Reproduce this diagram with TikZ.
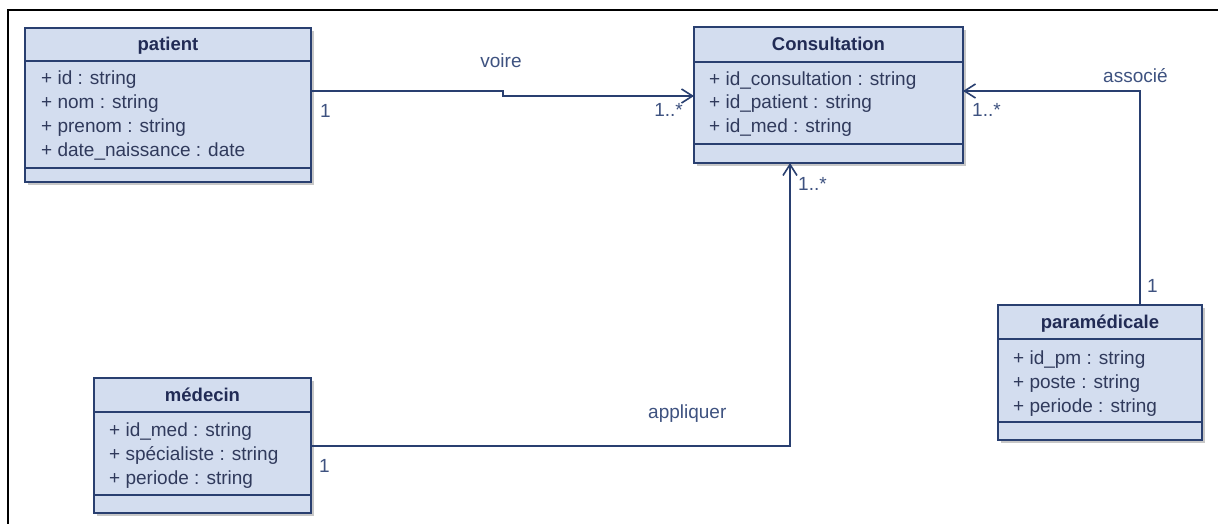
\documentclass[tikz,border=0pt]{standalone}
\usepackage{fontspec}
\setmainfont{Liberation Sans}
\usetikzlibrary{arrows.meta,shadows}

\definecolor{umlfill}{RGB}{211,221,239}
\definecolor{umlborder}{RGB}{41,63,112}
\definecolor{umltitle}{RGB}{33,43,85}
\definecolor{umlattr}{RGB}{48,58,92}
\definecolor{umllabel}{RGB}{62,82,128}

\tikzset{
  classbox/.style={draw=umlborder, fill=umlfill, line width=2pt, anchor=north west,
    inner sep=0pt, outer sep=0pt,
    drop shadow={shadow xshift=3pt, shadow yshift=-3pt, fill=black, opacity=0.22}},
  sepline/.style={draw=umlborder, line width=2pt},
  classtitle/.style={anchor=base, inner sep=0pt, text=umltitle,
    font=\fontsize{18.5}{22}\selectfont\bfseries},
  attr/.style={anchor=base west, inner sep=0pt, text=umlattr,
    font=\fontsize{19}{22}\selectfont},
  rolelabel/.style={anchor=base west, inner sep=0pt, text=umllabel,
    font=\fontsize{19}{22}\selectfont},
  assoc/.style={draw=umlborder, line width=2pt,
    -{Straight Barb[length=11pt,width=14pt,line width=1.6pt]}},
}

\begin{document}
\begin{tikzpicture}[x=1pt,y=-1pt]
\useasboundingbox (0,0) rectangle (1218,524);
\fill[white] (0,0) rectangle (1218,524);

% outer frame
\draw[line width=2pt, black] (8,526) -- (8,10) -- (1220,10);

% class: patient
\node[classbox, minimum width=286pt, minimum height=154pt] (patient) at (25,28) {};
\draw[sepline] (patient.west |- 0,61) -- (patient.east |- 0,61);
\draw[sepline] (patient.west |- 0,168) -- (patient.east |- 0,168);
\node[classtitle] (patient-title) at (168,51) {patient};
\node[attr] (patient-a1) at (41,85) {+ id : string};
\node[attr] (patient-a2) at (41,109) {+ nom : string};
\node[attr] (patient-a3) at (41,133) {+ prenom : string};
\node[attr] (patient-a4) at (41,157) {+ date\_naissance : date};

% class: Consultation
\node[classbox, minimum width=269pt, minimum height=136pt] (cons) at (694,27) {};
\draw[sepline] (cons.west |- 0,62) -- (cons.east |- 0,62);
\draw[sepline] (cons.west |- 0,144) -- (cons.east |- 0,144);
\node[classtitle] (cons-title) at (828.5,51) {Consultation};
\node[attr] (cons-a1) at (709,86) {+ id\_consultation : string};
\node[attr] (cons-a2) at (709,109) {+ id\_patient : string};
\node[attr] (cons-a3) at (709,133) {+ id\_med : string};

% class: paramédicale
\node[classbox, minimum width=204pt, minimum height=135pt] (para) at (998,305) {};
\draw[sepline] (para.west |- 0,339) -- (para.east |- 0,339);
\draw[sepline] (para.west |- 0,422) -- (para.east |- 0,422);
\node[classtitle] (para-title) at (1100,328) {paramédicale};
\node[attr] (para-a1) at (1013,364) {+ id\_pm : string};
\node[attr] (para-a2) at (1013,388) {+ poste : string};
\node[attr] (para-a3) at (1013,412) {+ periode : string};

% class: médecin
\node[classbox, minimum width=217pt, minimum height=135pt] (med) at (94,378) {};
\draw[sepline] (med.west |- 0,412) -- (med.east |- 0,412);
\draw[sepline] (med.west |- 0,495) -- (med.east |- 0,495);
\node[classtitle] (med-title) at (202.5,401) {médecin};
\node[attr] (med-a1) at (109,436) {+ id\_med : string};
\node[attr] (med-a2) at (109,460) {+ spécialiste : string};
\node[attr] (med-a3) at (109,484) {+ periode : string};

% association: voire
\coordinate (v1) at (503,91);
\coordinate (v2) at (503,96);
\draw[assoc] (patient.east |- v1) -- (v1) -- (v2) -- (cons.west |- v2);
\node[rolelabel, anchor=base] (voire) at (501,68) {voire};
\node[rolelabel] (voire-m1) at (320,118) {1};
\node[rolelabel, anchor=base east] (voire-m2) at (683,117) {1..*};

% association: associé
\coordinate (s1) at (1140,91);
\draw[assoc] (s1 |- para.north) -- (s1) -- (cons.east |- s1);
\node[rolelabel] (assoc-label) at (1103,83) {associé};
\node[rolelabel] (assoc-m2) at (972,117) {1..*};
\node[rolelabel] (assoc-m1) at (1147,292) {1};

% association: appliquer
\coordinate (p1) at (790,446);
\draw[assoc] (med.east |- p1) -- (p1) -- (cons.south -| p1);
\node[rolelabel] (appl-label) at (648,418) {appliquer};
\node[rolelabel] (appl-m1) at (319,472) {1};
\node[rolelabel] (appl-m2) at (798,190) {1..*};
\end{tikzpicture}
\end{document}
